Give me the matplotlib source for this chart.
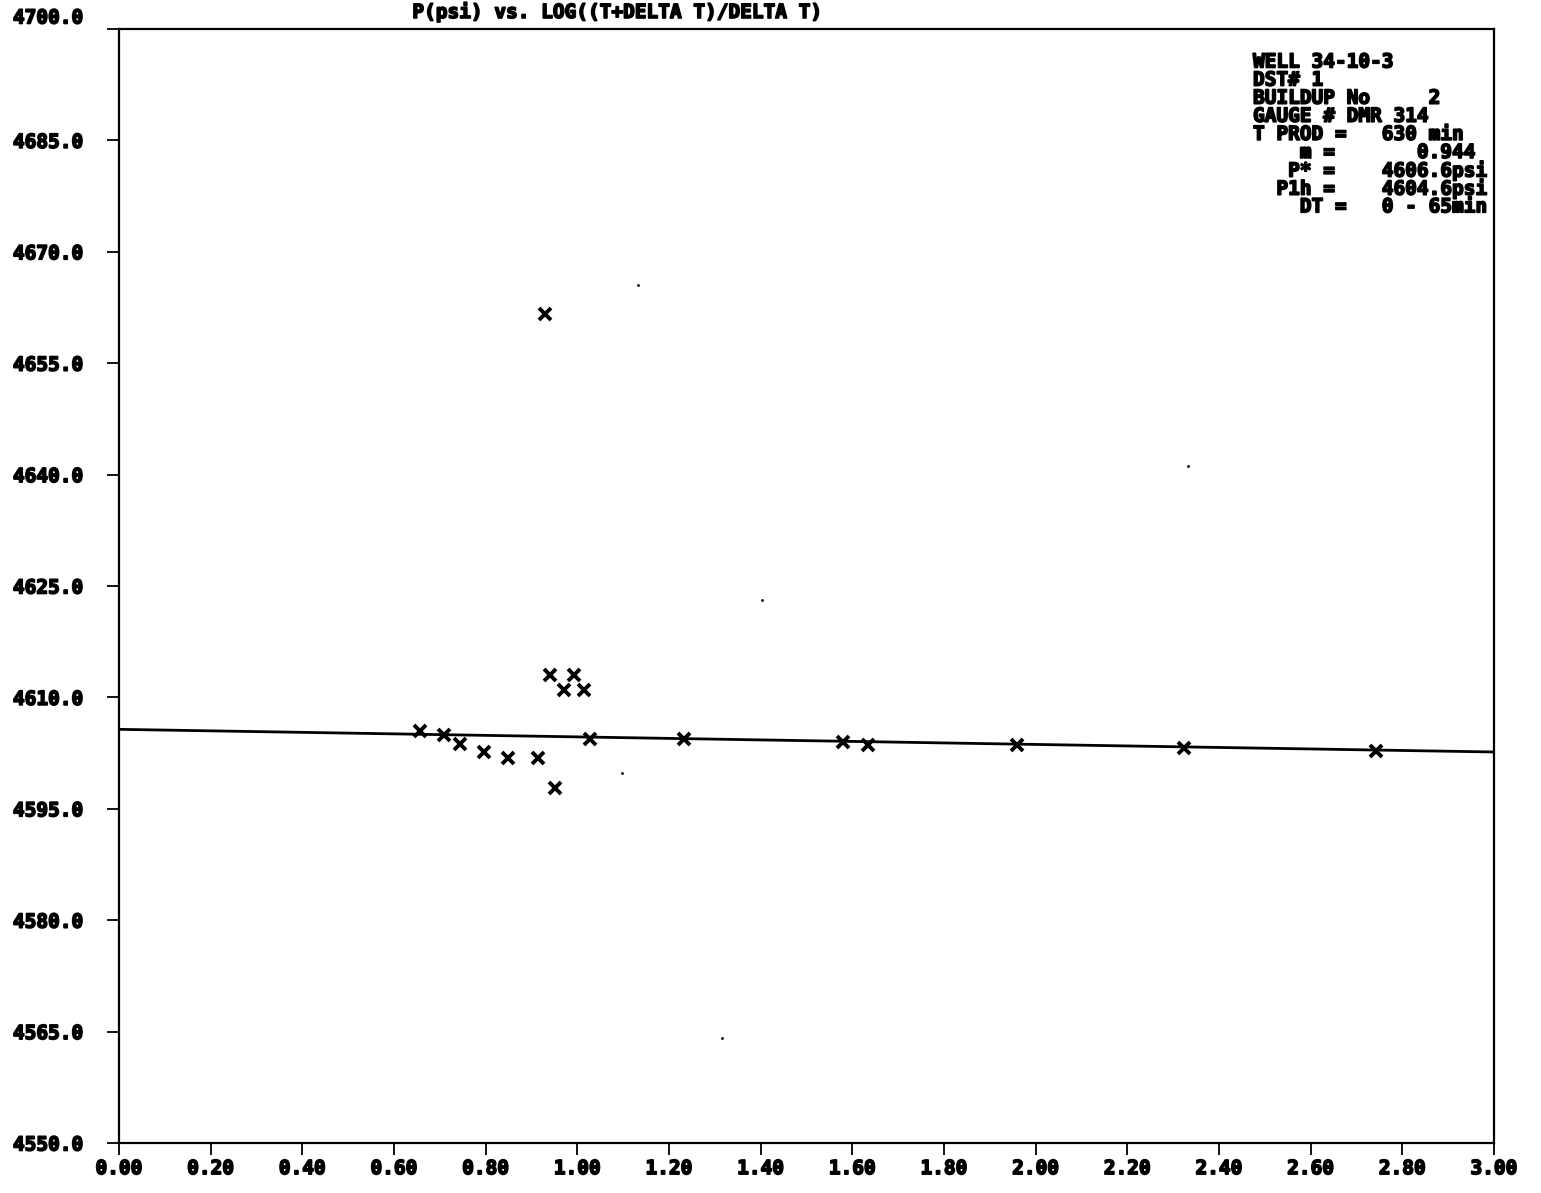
import numpy as np
import matplotlib
matplotlib.use('Agg')
from matplotlib import pyplot as plt
import matplotlib.transforms as mtrans
import matplotlib.patheffects as pe

# buildup data
log_ratio = [0.657, 0.709, 0.744, 0.796, 0.849, 0.914, 0.951, 0.930, 0.940, 0.993,
             0.971, 1.015, 1.028, 1.233, 1.580, 1.634, 1.959, 2.324, 2.743]
pressure = [4605.5, 4604.9, 4603.7, 4602.7, 4601.8, 4601.8, 4597.8, 4661.6, 4613.0, 4613.0,
            4611.0, 4611.0, 4604.4, 4604.4, 4604.0, 4603.6, 4603.6, 4603.2, 4602.8]

# fitted straight line
fit_x = [0.0, 3.0]
fit_y = [4605.7, 4602.65]

# specks on the scanned sheet
speck_x = [1.132, 2.333, 1.403, 1.098, 1.316]
speck_y = [4665.5, 4641.2, 4623.1, 4599.8, 4564.1]

xticks = [0.0, 0.2, 0.4, 0.6, 0.8, 1.0, 1.2, 1.4, 1.6, 1.8, 2.0, 2.2, 2.4, 2.6, 2.8, 3.0]
yticks = [4550, 4565, 4580, 4595, 4610, 4625, 4640, 4655, 4670, 4685, 4700]

title = 'P(psi) vs. LOG((T+DELTA T)/DELTA T)'
info_lines = ['WELL 34-10-3',
              'DST# 1',
              'BUILDUP No     2',
              'GAUGE # DMR 314',
              'T PROD =   630 min',
              '    m =       0.944',
              '   P* =    4606.6psi',
              '  P1h =    4604.6psi',
              '    DT =   0 - 65min']

font = dict(family='DejaVu Sans Mono', weight='bold', size=14)
heavy = [pe.withStroke(linewidth=1.2, foreground='black')]  # plotter ink is blotchy

fig = plt.figure(figsize=(15.41, 11.93), dpi=100)
W, H = 1541, 1193
ax = fig.add_axes([119 / W, 1 - 1143 / H, (1494 - 119) / W, (1143 - 29) / H])

ax.plot(fit_x, fit_y, color='black', lw=2.0)
ax.plot(log_ratio, pressure, 'x', color='black', ms=8, mew=2.8)
ax.plot(speck_x, speck_y, '.', color='black', ms=2)

ax.set_xlim(0, 3)
ax.set_ylim(4550, 4700)
ax.set_xticks(xticks)
ax.set_xticklabels(['%.2f' % v for v in xticks], fontdict=font)
ax.set_yticks(yticks)
ax.set_yticklabels(['%.1f' % v for v in yticks], fontdict=font)
ax.tick_params(axis='x', direction='out', length=8.6, width=1.3, pad=3)
ax.tick_params(axis='y', direction='out', length=8.6, width=1.3, pad=17)
for s in ax.spines.values():
    s.set_linewidth(1.6)
for lab in ax.get_xticklabels() + ax.get_yticklabels():
    lab.set_path_effects(heavy)

# top label sits a little higher on the original
top_lab = ax.get_yticklabels()[-1]
top_lab.set_transform(top_lab.get_transform() + mtrans.ScaledTranslation(0, 13 / 100, fig.dpi_scale_trans))

fig.text(618 / W, 1 - 12 / H, title, ha='center', va='center', path_effects=heavy, **font)

for i, line in enumerate(info_lines):
    fig.text(1253 / W, 1 - (62 + 18.1 * i) / H, line, ha='left', va='center',
             path_effects=heavy, **font)

fig.savefig('out.png', dpi=100)
